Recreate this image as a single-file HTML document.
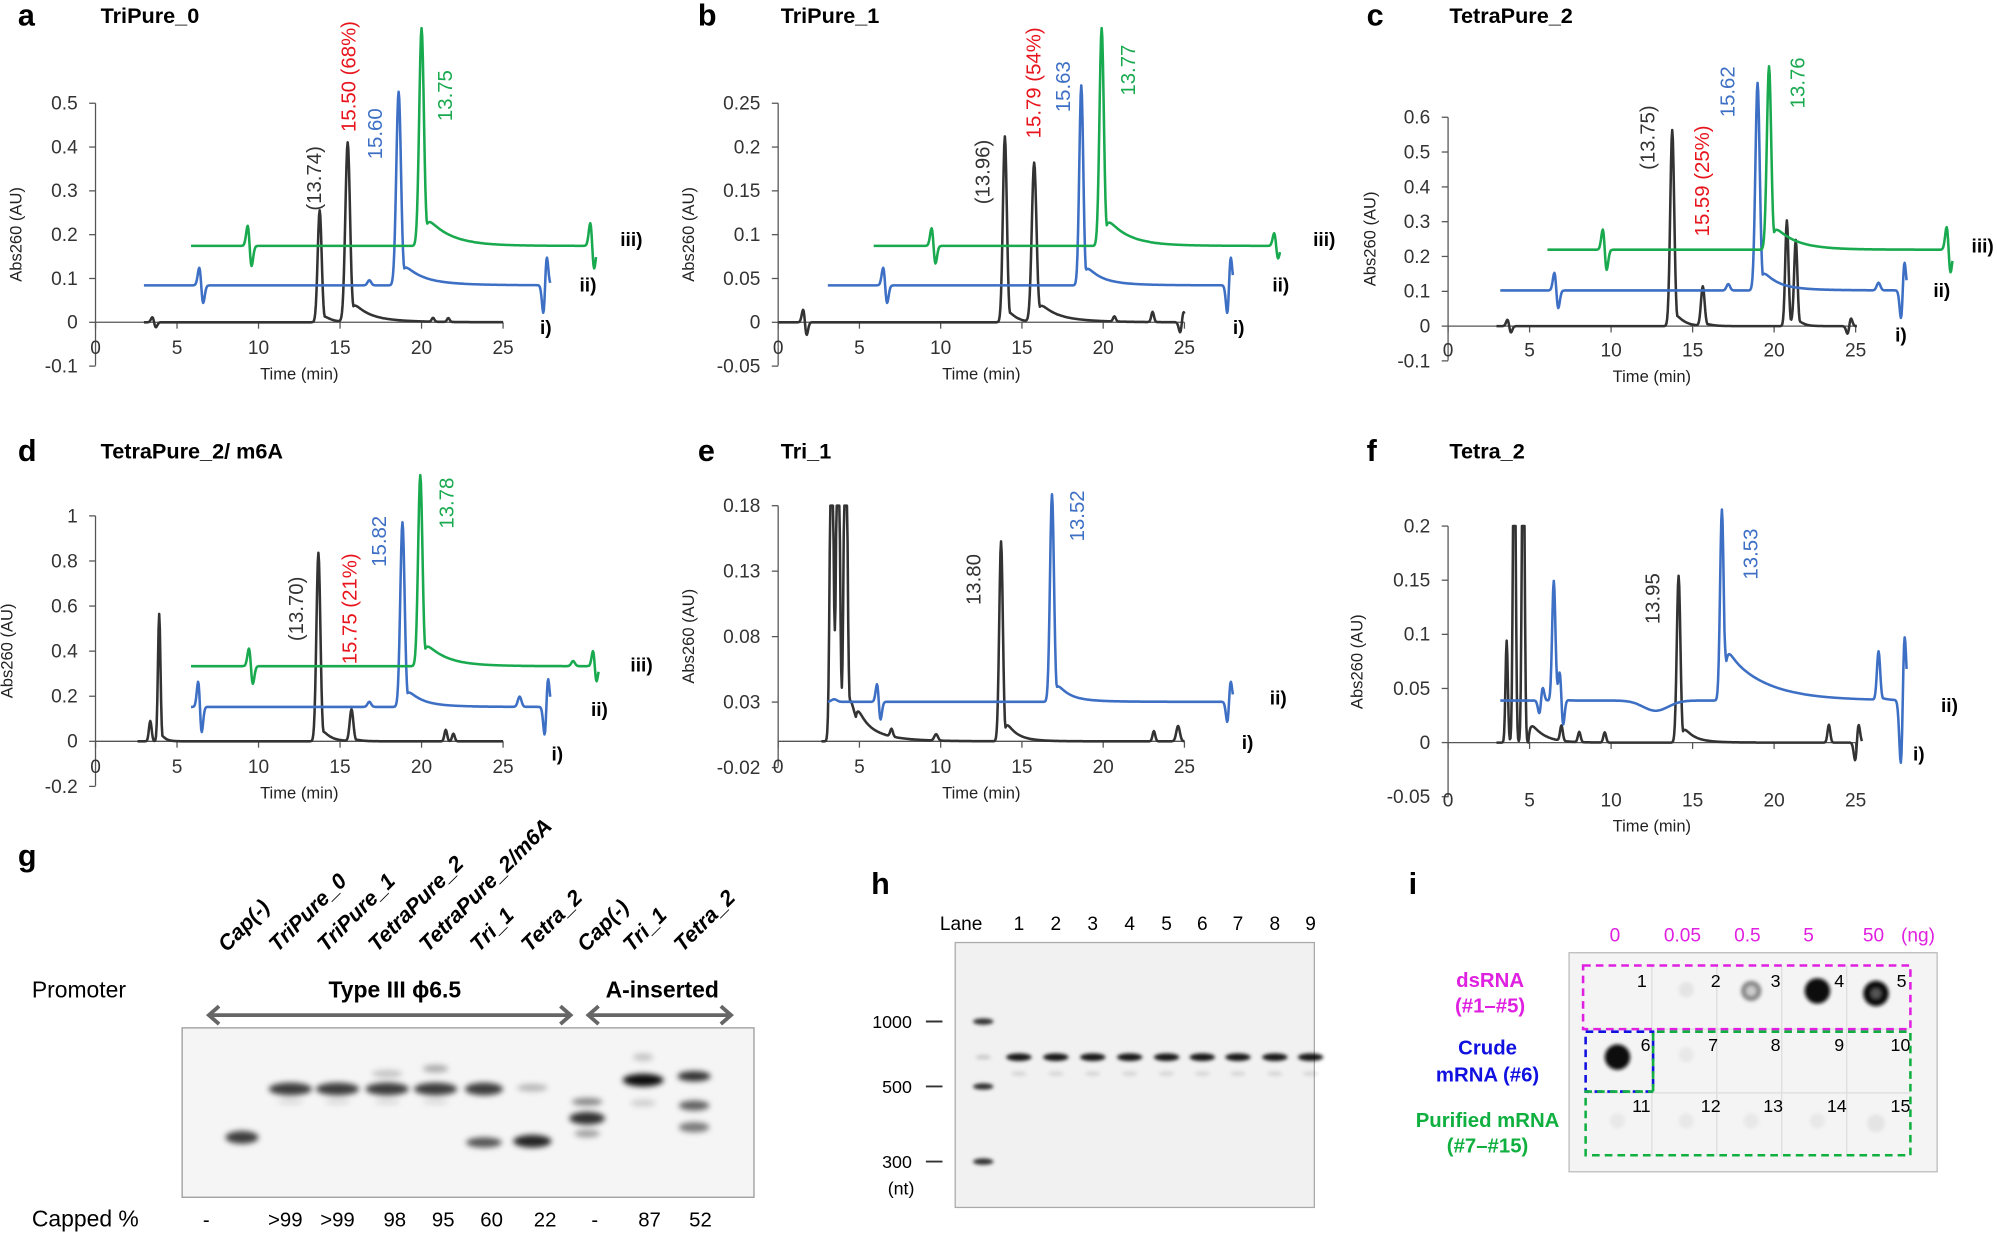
<!DOCTYPE html>
<html><head><meta charset="utf-8">
<style>
html,body{margin:0;padding:0;background:#fff;}
svg{display:block;font-family:"Liberation Sans",Arial,sans-serif;}
</style></head>
<body>
<svg id="s" width="1997" height="1233" viewBox="0 0 1568 968" xmlns="http://www.w3.org/2000/svg">
<defs>
<filter id="bl" x="-50%" y="-100%" width="200%" height="300%"><feGaussianBlur stdDeviation="2.2"/></filter>
<filter id="bl2" x="-50%" y="-50%" width="200%" height="200%"><feGaussianBlur stdDeviation="1.5"/></filter>
</defs>
<g id="charts"></g>

<!-- Panel g -->
<text x="14" y="680" font-size="24" font-weight="bold">g</text>
<g font-size="17" font-weight="bold" font-style="italic">
<text transform="translate(178,748) rotate(-45)">Cap(-)</text>
<text transform="translate(218,748) rotate(-45)">TriPure_0</text>
<text transform="translate(256,748) rotate(-45)">TriPure_1</text>
<text transform="translate(296,748) rotate(-45)">TetraPure_2</text>
<text transform="translate(336,748) rotate(-45)">TetraPure_2/m6A</text>
<text transform="translate(376,748) rotate(-45)">Tri_1</text>
<text transform="translate(416,748) rotate(-45)">Tetra_2</text>
<text transform="translate(460,748) rotate(-45)">Cap(-)</text>
<text transform="translate(496,748) rotate(-45)">Tri_1</text>
<text transform="translate(536,748) rotate(-45)">Tetra_2</text>
</g>
<text x="25" y="783" font-size="18">Promoter</text>
<text x="310" y="783" font-size="18" font-weight="bold" text-anchor="middle">Type III ϕ6.5</text>
<text x="520" y="783" font-size="18" font-weight="bold" text-anchor="middle">A-inserted</text>
<g stroke="#666" stroke-width="3" fill="none">
<line x1="164" y1="797" x2="448" y2="797"/><polyline points="172,790 164,797 172,804"/><polyline points="440,790 448,797 440,804"/>
<line x1="462" y1="797" x2="574" y2="797"/><polyline points="470,790 462,797 470,804"/><polyline points="566,790 574,797 566,804"/>
</g>
<rect x="143" y="807" width="449" height="133" fill="#f5f5f5" stroke="#999" stroke-width="1"/>
<g id="gelg" filter="url(#bl)"></g>
<g font-size="16" text-anchor="middle">
<text x="25" y="963" text-anchor="start" font-size="18">Capped %</text>
<text x="162" y="963">-</text><text x="224" y="963">&gt;99</text><text x="265" y="963">&gt;99</text><text x="310" y="963">98</text><text x="348" y="963">95</text><text x="386" y="963">60</text><text x="428" y="963">22</text><text x="467" y="963">-</text><text x="510" y="963">87</text><text x="550" y="963">52</text>
</g>

<!-- Panel h -->
<text x="684" y="702" font-size="24" font-weight="bold">h</text>
<text x="738" y="730" font-size="15">Lane</text>
<g font-size="15" text-anchor="middle" id="hl"></g>
<rect x="750" y="740" width="282" height="208" fill="#f1f1f1" stroke="#aaa"/>
<g font-size="14" text-anchor="end">
<text x="716" y="807">1000</text><text x="716" y="858">500</text><text x="716" y="917">300</text>
<text x="718" y="938">(nt)</text></g>
<g stroke="#333" stroke-width="1.5"><line x1="727" y1="802" x2="740" y2="802"/><line x1="727" y1="853" x2="740" y2="853"/><line x1="727" y1="912" x2="740" y2="912"/></g>
<g id="gelh" filter="url(#bl2)"></g>

<!-- Panel i -->
<text x="1106" y="702" font-size="24" font-weight="bold">i</text>
<g font-size="15" fill="#e020e0" text-anchor="middle">
<text x="1268" y="739">0</text><text x="1321" y="739">0.05</text><text x="1372" y="739">0.5</text><text x="1420" y="739">5</text><text x="1471" y="739">50</text><text x="1506" y="739">(ng)</text></g>
<rect x="1232" y="748" width="289" height="172" fill="#f4f4f4" stroke="#bbb"/>
<g stroke="#ddd" stroke-width="1">
<line x1="1297" y1="758" x2="1297" y2="908"/><line x1="1348" y1="758" x2="1348" y2="908"/><line x1="1399" y1="758" x2="1399" y2="908"/><line x1="1450" y1="758" x2="1450" y2="908"/>
<line x1="1245" y1="808" x2="1500" y2="808"/><line x1="1245" y1="858" x2="1500" y2="858"/></g>
<g font-size="14" text-anchor="end">
<text x="1293" y="775">1</text><text x="1351" y="775">2</text><text x="1398" y="775">3</text><text x="1448" y="775">4</text><text x="1497" y="775">5</text>
<text x="1296" y="825">6</text><text x="1349" y="825">7</text><text x="1398" y="825">8</text><text x="1448" y="825">9</text><text x="1500" y="825">10</text>
<text x="1296" y="873">11</text><text x="1351" y="873">12</text><text x="1400" y="873">13</text><text x="1450" y="873">14</text><text x="1500" y="873">15</text></g>
<g filter="url(#bl2)">
<circle cx="1324" cy="777" r="6" fill="#e4e4e4"/>
<circle cx="1375" cy="778" r="8" fill="#888"/><circle cx="1375" cy="778" r="4" fill="#ccc"/>
<circle cx="1427" cy="778" r="10" fill="#111"/>
<circle cx="1473" cy="780" r="10" fill="#111"/><circle cx="1473" cy="780" r="4" fill="#555"/>
<circle cx="1270" cy="830" r="10" fill="#111"/>
<circle cx="1324" cy="828" r="6" fill="#e8e8e8"/>
<circle cx="1270" cy="880" r="6" fill="#e8e8e8"/><circle cx="1324" cy="880" r="6" fill="#e8e8e8"/><circle cx="1375" cy="880" r="6" fill="#e8e8e8"/><circle cx="1427" cy="880" r="6" fill="#e8e8e8"/><circle cx="1473" cy="882" r="7" fill="#e4e4e4"/>
</g>
<g fill="none" stroke-width="2" stroke-dasharray="6,4">
<rect x="1243" y="758" width="257" height="50" stroke="#e020e0"/>
<rect x="1245" y="810" width="53" height="47" stroke="#1010e0"/>
<polyline points="1298,857 1298,810 1500,810 1500,907 1245,907 1245,857 1298,857" stroke="#10b040"/>
</g>
<g font-size="16" font-weight="bold" text-anchor="middle">
<text x="1170" y="775" fill="#e020e0">dsRNA</text><text x="1170" y="795" fill="#e020e0">(#1–#5)</text>
<text x="1168" y="828" fill="#1010e0">Crude</text><text x="1168" y="849" fill="#1010e0">mRNA (#6)</text>
<text x="1168" y="885" fill="#10b040">Purified mRNA</text><text x="1168" y="905" fill="#10b040">(#7–#15)</text>
</g>
</svg>
<script>
const NS="http://www.w3.org/2000/svg";
const C=document.getElementById('charts');
function el(tag,attrs,txt,parent){const e=document.createElementNS(NS,tag);for(const k in attrs)e.setAttribute(k,attrs[k]);if(txt!=null)e.textContent=txt;(parent||C).appendChild(e);return e;}
function gs(x,c,w){const u=(x-c)/w;return Math.exp(-u*u);}
function val(x,f){let v=0;for(const q of f){const t=q[0],c=q[1],h=q[2],w=q[3],tl=q[4];
 if(t==='p'){ if(x<=c) v+=h*gs(x,c,w); else { const g=gs(x,c,w); const tt=tl?Math.exp(-(x-c)/tl)*0.12:0; v+=h*Math.max(g,tt*(1-Math.exp(-(x-c)/w)));}}
 else if(t==='s'){const u=(x-c)/w; v+=h*u*Math.exp(-u*u)*2.3;}
 else if(t==='r'){ if(x>c) v+=h*Math.exp(-(x-c)/w)*(1-Math.exp(-(x-c)/1.5)); }
}return v;}
function trace(x0,x1,base,f,color,clip){let d='';for(let x=x0;x<=x1;x+=0.5){let y=base-val(x,f);if(clip!=null&&y<clip)y=clip;d+=(d?'L':'M')+x.toFixed(1)+' '+y.toFixed(1);}el('path',{d:d,fill:'none',stroke:color,'stroke-width':2,'stroke-linejoin':'round'});}
function axes(o){
 el('line',{x1:o.ox,y1:o.ytop,x2:o.ox,y2:o.ybot,stroke:'#555','stroke-width':1});
 for(const [l,y] of o.ticks){el('line',{x1:o.ox-5,y1:y,x2:o.ox,y2:y,stroke:'#555'});el('text',{x:o.ox-14,y:y+5,'font-size':15,'text-anchor':'end',fill:'#333'},l);}
 el('line',{x1:o.ox,y1:o.y0,x2:o.x25,y2:o.y0,stroke:'#555'});
 const s=(o.x25-o.ox)/25;
 for(let t=0;t<=25;t+=5){const x=o.ox+t*s;el('line',{x1:x,y1:o.y0,x2:x,y2:o.y0+5,stroke:'#555'});el('text',{x:x,y:o.xly,'font-size':15,'text-anchor':'middle',fill:'#333'},String(t));}
 el('text',{x:(o.ox+o.x25)/2,y:o.xly+20,'font-size':13,'text-anchor':'middle',fill:'#222'},'Time (min)');
 el('text',{transform:'translate('+o.ylx+','+((o.ytop+o.ybot)/2)+') rotate(-90)','font-size':13,'text-anchor':'middle',fill:'#222'},'Abs260 (AU)');
}
function rlab(x,yc,txt,col){el('text',{transform:'translate('+x+','+yc+') rotate(-90)','font-size':16,'text-anchor':'middle',fill:col},txt);}
function ptitle(x,y,L,t){el('text',{x:x,y:y,'font-size':24,'font-weight':'bold'},L);el('text',{x:x+65,y:y-2,'font-size':17,'font-weight':'bold'},t);}
function tlab(x,y,t){el('text',{x:x,y:y,'font-size':15,'font-weight':'bold'},t);}
const K='#333',B='#3d6fc4',G='#19a94f',R='#e8141c';

// Panel a
ptitle(14,20,'a','TriPure_0');
axes({ox:75,x25:395,y0:253,ticks:[['0.5',81],['0.4',115.4],['0.3',149.8],['0.2',184.2],['0.1',218.6],['0',253],['-0.1',287.4]],ytop:81,ybot:287,xly:278,ylx:17});
trace(113,395,253,[['s',121,-4,2],['p',251,88,2.2,6],['p',273,141,2.6,10],['r',276,6,25],['p',340,3,1.5],['p',352,3,1.5]],K);
trace(113,432,224,[['s',158,-14,2.2],['p',290,4,2],['p',313,152,2.6,12],['r',316,5,30],['s',428,22,2]],B);
trace(150,468,193,[['s',196,-16,2.2],['p',331,171,2.6,16],['r',334,8,22],['s',465,-18,2.2]],G);
rlab(252,140,'(13.74)',K);rlab(279,60,'15.50 (68%)',R);rlab(300,105,'15.60',B);rlab(355,75,'13.75',G);
tlab(424,262,'i)');tlab(455,229,'ii)');tlab(487,193,'iii)');

// Panel b
ptitle(548,20,'b','TriPure_1');
axes({ox:611,x25:930,y0:253,ticks:[['0.25',81],['0.2',115.4],['0.15',149.8],['0.1',184.2],['0.05',218.6],['0',253],['-0.05',287.4]],ytop:81,ybot:287,xly:278,ylx:545});
trace(611,930,253,[['s',632,-10,2],['p',789,146,2.2,6],['p',812,125,2.6,10],['r',815,7,25],['p',875,4,1.5],['p',905,8,1.5],['s',928,8,2]],K);
trace(650,968,224,[['s',695,-14,2.2],['p',849,157,2.2,10],['r',852,4,25],['s',965,22,2]],B);
trace(686,1005,193,[['s',733,-14,2.2],['p',865,171,2.4,14],['r',868,8,22],['s',1002,-10,2.2]],G);
rlab(777,135,'(13.96)',K);rlab(817,65,'15.79 (54%)',R);rlab(840,68,'15.63',B);rlab(891,55,'13.77',G);
tlab(968,262,'i)');tlab(999,229,'ii)');tlab(1031,193,'iii)');

// Panel c
ptitle(1073,20,'c','TetraPure_2');
axes({ox:1137,x25:1457,y0:256,ticks:[['0.6',92],['0.5',119.3],['0.4',146.7],['0.3',174],['0.2',201.3],['0.1',228.7],['0',256],['-0.1',283.3]],ytop:92,ybot:283,xly:280,ylx:1080});
trace(1175,1458,256,[['s',1185,-5,2],['p',1313,154,2.2,6],['p',1337,31,2,5],['p',1403,83,1.8,4],['p',1410,66,1.8,4],['s',1452,6,2]],K);
trace(1178,1497,228,[['s',1222,-14,2.2],['p',1357,5,2],['p',1380,163,2.4,10],['r',1383,4,25],['p',1475,6,2],['s',1494,22,2]],B);
trace(1215,1533,196,[['s',1260,-16,2.2],['p',1389,144,2.4,14],['r',1392,7,22],['s',1530,-18,2.2]],G);
rlab(1299,108,'(13.75)',K);rlab(1342,142,'15.59 (25%)',R);rlab(1362,72,'15.62',B);rlab(1417,65,'13.76',G);
tlab(1488,268,'i)');tlab(1518,233,'ii)');tlab(1548,198,'iii)');

// Panel d
ptitle(14,362,'d','TetraPure_2/ m6A');
axes({ox:75,x25:395,y0:582,ticks:[['1',405],['0.8',440.4],['0.6',475.8],['0.4',511.2],['0.2',546.6],['0',582],['-0.2',617.4]],ytop:405,ybot:617,xly:607,ylx:10});
trace(108,395,582,[['p',118,16,1.5],['p',125,100,1.4,3],['p',250,148,2.2,6],['p',276,25,2,5],['p',350,9,1.5],['p',356,6,1.5]],K);
trace(150,432,555,[['s',157,-20,2],['p',290,4,2],['p',316,145,2.4,10],['r',319,3,25],['p',408,8,2],['s',429,22,2]],B);
trace(150,470,523,[['s',197,-14,2.2],['p',330,150,2.4,14],['r',333,6,22],['p',450,4,2],['s',467,-12,2]],G);
rlab(238,478,'(13.70)',K);rlab(280,478,'15.75 (21%)',R);rlab(303,425,'15.82',B);rlab(356,395,'13.78',G);
tlab(433,597,'i)');tlab(464,562,'ii)');tlab(495,527,'iii)');

// Panel e
ptitle(548,362,'e','Tri_1');
axes({ox:611,x25:930,y0:582,ticks:[['0.18',397],['0.13',448.4],['0.08',499.8],['0.03',551.2],['-0.02',602.6]],ytop:397,ybot:602,xly:607,ylx:545});
trace(645,930,582,[['p',653,300,1.8,4],['p',658,300,1.8,4],['p',664,300,1.8,4],['r',666,28,8],['r',672,14,20],['p',700,6,1.5],['p',735,5,2],['p',786,157,2,6],['r',789,8,12],['p',906,8,1.5],['p',925,12,2]],K,397);
trace(650,968,551,[['p',655,2,3],['s',690,-14,2],['p',826,163,2.2,8],['r',829,4,20],['s',965,16,2]],B);
rlab(770,455,'13.80',K);rlab(851,405,'13.52',B);
tlab(975,588,'i)');tlab(997,553,'ii)');

// Panel f
ptitle(1073,362,'f','Tetra_2');
axes({ox:1137,x25:1457,y0:583,ticks:[['0.2',413],['0.15',455.5],['0.1',498],['0.05',540.5],['0',583],['-0.05',625.5]],ytop:413,ybot:626,xly:633,ylx:1070});
trace(1175,1462,583,[['p',1183,80,1.3],['p',1189,300,1.4],['p',1196,300,1.4],['r',1200,20,10],['p',1226,12,1.5],['p',1240,8,1.5],['p',1260,8,1.5],['p',1318,131,2,6],['r',1321,6,12],['p',1436,14,1.5],['s',1458,14,2]],K,413);
trace(1178,1497,550,[['s',1210,10,2],['p',1220,94,1.8,3],['s',1226,-20,2],['p',1300,-8,14],['p',1352,150,2,4],['r',1354,40,30],['p',1475,38,1.8,3],['s',1494,50,2.2]],B);
rlab(1303,470,'13.95',K);rlab(1380,435,'13.53',B);
tlab(1502,597,'i)');tlab(1524,559,'ii)');

// gel g bands
const gg=document.getElementById('gelg');
function band(g,x,y,w,h,op){el('ellipse',{cx:x,cy:y,rx:w,ry:h,fill:'#000','fill-opacity':op},null,g);}
band(gg,190,893,13,5,0.75);
for(const x of [228,265,304,342]){band(gg,x,855,17,5,0.75);band(gg,x,865,10,2,0.12);}
band(gg,304,843,12,3,0.2);band(gg,342,839,10,3,0.3);
band(gg,380,855,15,5,0.75);band(gg,380,897,14,4,0.65);
band(gg,418,854,12,3,0.25);band(gg,418,896,15,5,0.85);
band(gg,461,865,12,3,0.45);band(gg,461,878,14,5,0.8);band(gg,461,890,10,3,0.35);
band(gg,505,848,16,5,0.95);band(gg,505,830,8,3,0.2);band(gg,505,866,10,3,0.15);
band(gg,545,845,13,4,0.8);band(gg,545,868,12,4,0.6);band(gg,545,885,12,4,0.5);
// gel h
const hl=document.getElementById('hl');const gh=document.getElementById('gelh');
const xs=[800,829,858,887,916,944,972,1001,1029];
xs.forEach(function(x,i){el('text',{x:x,y:730},String(i+1),hl);band(gh,x,830,10,3,0.9);band(gh,x,843,6,2,0.1);});
band(gh,772,802,8,2.5,0.8);band(gh,772,853,8,2.5,0.8);band(gh,772,912,8,2.5,0.8);band(gh,772,830,6,2,0.15);
for(let x=755;x<1030;x+=28){el('rect',{x:x,y:744,width:22,height:8,fill:'none',stroke:'#ccc','stroke-width':1});}
</script>
</body></html>
